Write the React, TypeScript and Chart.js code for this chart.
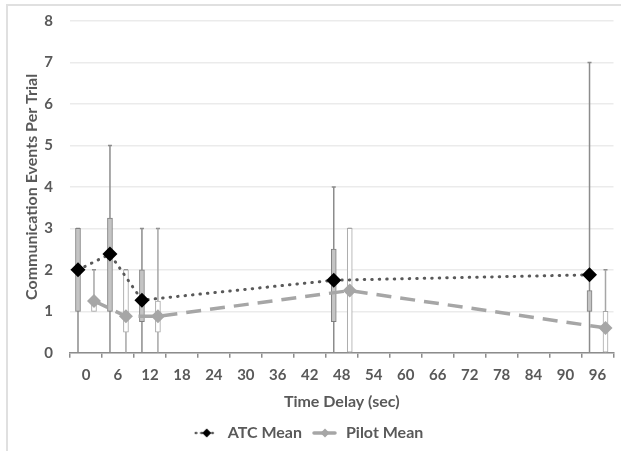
import React, { useEffect, useRef } from "react";
import { Chart, registerables } from "chart.js";

Chart.register(...registerables);

const xTickValues = [0, 6, 12, 18, 24, 30, 36, 42, 48, 54, 60, 66, 72, 78, 84, 90, 96];

const atcX = [-1.5, 4.5, 10.5, 46.5, 94.5];
const atcMean = [2.0, 2.38, 1.27, 1.75, 1.88];
const atcQ1 = [1, 1, 0.75, 0.75, 1];
const atcQ3 = [3, 3.25, 2, 2.5, 1.5];
const atcMin = [0, 0, 0, 0, 0];
const atcMax = [3, 5, 3, 4, 7];

const pilotX = [1.5, 7.5, 13.5, 49.5, 97.5];
const pilotMean = [1.25, 0.88, 0.88, 1.5, 0.6];
const pilotQ1 = [1, 0.5, 0.5, 0, 0];
const pilotQ3 = [1.25, 2, 1.25, 3, 1];
const pilotMin = [1, 0, 0, 0, 0];
const pilotMax = [2, 2, 3, 3, 2];

const TEXT = "#595959";
const FONT = "Lato";

function whiskerData(xs: number[], mins: number[], maxs: number[]) {
  const out: any[] = [];
  xs.forEach((x, i) => {
    out.push({ x, y: mins[i] });
    out.push({ x, y: maxs[i] });
    out.push({ x, y: null });
  });
  return out;
}

function makeIcon(lineColor: string, dash: number[], lineWidth: number, diamondColor: string) {
  const c = document.createElement("canvas");
  c.width = 26;
  c.height = 12;
  const ctx = c.getContext("2d")!;
  ctx.strokeStyle = lineColor;
  ctx.lineWidth = lineWidth;
  ctx.setLineDash(dash);
  ctx.lineCap = "round";
  ctx.beginPath();
  ctx.moveTo(2, 6);
  ctx.lineTo(24, 6);
  ctx.stroke();
  ctx.setLineDash([]);
  ctx.fillStyle = diamondColor;
  ctx.beginPath();
  ctx.moveTo(13, 1.5);
  ctx.lineTo(17.5, 6);
  ctx.lineTo(13, 10.5);
  ctx.lineTo(8.5, 6);
  ctx.closePath();
  ctx.fill();
  return c;
}

export default function App() {
  const ref = useRef<HTMLCanvasElement>(null);

  useEffect(() => {
    if (!ref.current) return;
    const atcIcon = makeIcon(TEXT, [0.5, 5], 2.5, "#000");
    const pilotIcon = makeIcon("#a6a6a6", [9, 3], 3.5, "#a6a6a6");

    const chart = new Chart(ref.current, {
      type: "line",
      data: {
        datasets: [
          {
            type: "line",
            label: "ATC Mean",
            data: atcX.map((x, i) => ({ x, y: atcMean[i] })),
            borderColor: TEXT,
            borderWidth: 3,
            borderDash: [0.5, 7],
            borderCapStyle: "round",
            pointStyle: "rectRot",
            pointRadius: 7.5,
            pointBackgroundColor: "#000",
            pointBorderColor: "#000",
            pointBorderWidth: 0,
            order: 0,
          } as any,
          {
            type: "line",
            label: "Pilot Mean",
            data: pilotX.map((x, i) => ({ x, y: pilotMean[i] })),
            borderColor: "#a6a6a6",
            borderWidth: 3.5,
            borderDash: [15, 9],
            pointStyle: "rectRot",
            pointRadius: 7,
            pointBackgroundColor: "#a6a6a6",
            pointBorderColor: "#a6a6a6",
            pointBorderWidth: 0,
            order: 0,
          } as any,
          {
            type: "bar",
            label: "ATC Box",
            data: atcX.map((x, i) => ({ x, y: [atcQ1[i], atcQ3[i]] })),
            backgroundColor: "#c4c4c4",
            borderColor: "#7f7f7f",
            borderWidth: 1,
            borderSkipped: false,
            barThickness: 5,
            grouped: false,
            order: 1,
          } as any,
          {
            type: "bar",
            label: "Pilot Box",
            data: pilotX.map((x, i) => ({ x, y: [pilotQ1[i], pilotQ3[i]] })),
            backgroundColor: "#ffffff",
            borderColor: "#a6a6a6",
            borderWidth: 1,
            borderSkipped: false,
            barThickness: 5,
            grouped: false,
            order: 1,
          } as any,
          {
            type: "line",
            label: "ATC Whisker",
            data: whiskerData(atcX, atcMin, atcMax),
            borderColor: "#8c8c8c",
            borderWidth: 1.5,
            pointRadius: 0,
            spanGaps: false,
            order: 2,
          } as any,
          {
            type: "line",
            label: "Pilot Whisker",
            data: whiskerData(pilotX, pilotMin, pilotMax),
            borderColor: "#a6a6a6",
            borderWidth: 1.5,
            pointRadius: 0,
            spanGaps: false,
            order: 2,
          } as any,
          {
            type: "line",
            label: "Caps",
            data: [
              ...atcX.map((x, i) => ({ x, y: atcMax[i] })),
              ...pilotX.map((x, i) => ({ x, y: pilotMax[i] })),
            ],
            showLine: false,
            pointStyle: "line",
            pointRadius: 2,
            pointBorderColor: "#8c8c8c",
            pointBorderWidth: 1.5,
            order: 2,
          } as any,
        ],
      },
      options: {
        responsive: false,
        animation: false,
        layout: { padding: { left: 0, right: 4, top: 21, bottom: 0 } },
        plugins: {
          tooltip: { enabled: false },
          legend: {
            position: "bottom",
            labels: {
              usePointStyle: true,
              pointStyleWidth: 26,
              boxHeight: 12,
              color: TEXT,
              font: { family: FONT, size: 16, weight: "bold" },
              padding: 10,
              generateLabels: (ch: any) => {
                const base = Chart.defaults.plugins.legend.labels.generateLabels(ch);
                return base
                  .filter((l: any) => l.datasetIndex < 2)
                  .map((l: any) => ({
                    ...l,
                    pointStyle: l.datasetIndex === 0 ? atcIcon : pilotIcon,
                    fontColor: TEXT,
                  }));
              },
            },
          },
        },
        scales: {
          x: {
            type: "linear",
            min: -3,
            max: 99,
            offset: false,
            bounds: "data",
            afterBuildTicks: (axis: any) => {
              axis.ticks = xTickValues.map((v) => ({ value: v }));
            },
            afterFit: (axis: any) => {
              axis.paddingLeft = 0;
              axis.paddingRight = 0;
            },
            ticks: {
              stepSize: 6,
              color: TEXT,
              font: { family: FONT, size: 15, weight: "bold" },
              padding: 8,
              maxRotation: 0,
              autoSkip: false,
            },
            grid: {
              display: true,
              drawOnChartArea: false,
              drawTicks: true,
              tickLength: 5,
              offset: true,
              color: "#8c8c8c",
              lineWidth: 1.5,
            },
            border: { display: true, color: "#8c8c8c", width: 1.5 },
            title: {
              display: true,
              text: "Time Delay (sec)",
              color: TEXT,
              font: { family: FONT, size: 16, weight: "bold" },
              padding: { top: 0, bottom: 4 },
            },
          },
          y: {
            type: "linear",
            min: 0,
            max: 8,
            afterFit: (axis: any) => {
              axis.width = 70;
              axis.paddingTop = 0;
              axis.paddingBottom = 0;
            },
            ticks: {
              stepSize: 1,
              color: TEXT,
              font: { family: FONT, size: 15, weight: "bold" },
              padding: 17,
            },
            grid: {
              color: "#ebebeb",
              lineWidth: 1.5,
              drawTicks: false,
            },
            border: { display: false },
            title: {
              display: true,
              text: "Communication Events Per Trial",
              color: TEXT,
              font: { family: FONT, size: 16, weight: "bold" },
              padding: { top: 22, bottom: 3 },
            },
          },
        },
      },
    });
    return () => chart.destroy();
  }, []);

  return (
    <div
      style={{
        position: "fixed",
        left: 0,
        top: 0,
        width: 621,
        height: 451,
        background: "#fff",
      }}
    >
      <div
        style={{
          position: "absolute",
          left: 6,
          top: 4,
          right: -2,
          bottom: -2,
          borderLeft: "2px solid #e0e0e0",
          borderTop: "2px solid #e0e0e0",
        }}
      />
      <canvas ref={ref} width={621} height={451} style={{ position: "absolute", left: 0, top: 0 }} />
    </div>
  );
}
